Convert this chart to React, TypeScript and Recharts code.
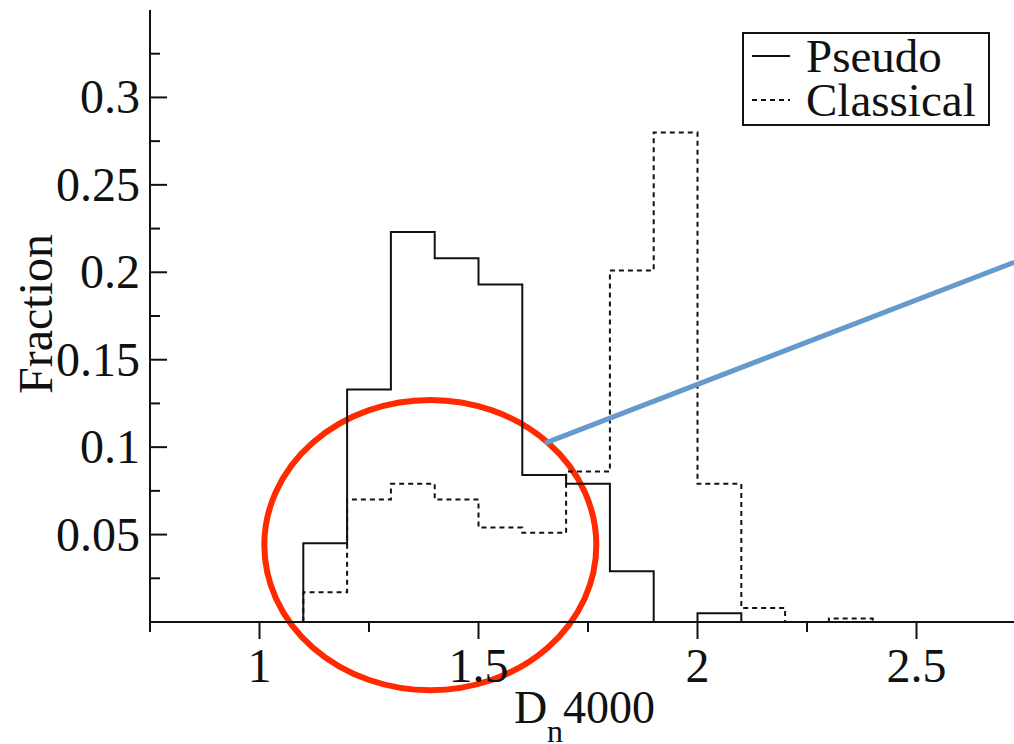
// Dn4000 distribution of pseudo vs classical bulges — step histogram with annotation overlay

import React from 'react';
import {
  ComposedChart,
  Line,
  XAxis,
  YAxis,
  Label,
  Legend,
  ReferenceArea,
  ReferenceLine,
} from 'recharts';

// left edges of the 0.1-wide bins, plus the closing edge
const binStarts = [1.1, 1.2, 1.3, 1.4, 1.5, 1.6, 1.7, 1.8, 1.9, 2.0, 2.1, 2.2, 2.3];
const binEnd = 2.4;

const pseudoFrac = [0.045, 0.133, 0.223, 0.208, 0.193, 0.084, 0.079, 0.029, 0, 0.005, 0, 0, 0];
const classicalFrac = [0.017, 0.07, 0.079, 0.07, 0.054, 0.051, 0.086, 0.201, 0.28, 0.079, 0.008, 0, 0.002];

const xTicks = [0.75, 1, 1.25, 1.5, 1.75, 2, 2.25, 2.5];
const xLabelled = [1, 1.5, 2, 2.5];
const yTicks = [0.025, 0.05, 0.075, 0.1, 0.125, 0.15, 0.175, 0.2, 0.225, 0.25, 0.275, 0.3, 0.325];
const yLabelled = [0.05, 0.1, 0.15, 0.2, 0.25, 0.3];

const xDomain: [number, number] = [0.75, 2.734];
const yDomain: [number, number] = [0, 0.35];

// hand-drawn annotations, in data coordinates
const circled = { x1: 1.011, x2: 1.769, y1: -0.039, y2: 0.127 };
const pointer = [
  { x: 1.652, y: 0.1023 },
  { x: 2.723, y: 0.2057 },
];

const INK = '#111';
const FONT = 'Liberation Serif, Times New Roman, serif';
const DOTTED = '5 4';

function toSteps(values: number[]) {
  const pts = [{ x: binStarts[0], y: 0 }];
  binStarts.forEach((x, i) => pts.push({ x, y: values[i] }));
  pts.push({ x: binEnd, y: 0 });
  return pts;
}

const pseudoSteps = toSteps(pseudoFrac);
const classicalSteps = toSteps(classicalFrac);

function LeftTick(props: any) {
  const { x, y, payload } = props;
  const major = yLabelled.includes(payload.value);
  return (
    <g>
      <line x1={x} x2={x + (major ? 17 : 10)} y1={y} y2={y} stroke={INK} strokeWidth={2} />
      {major && (
        <text x={x - 10} y={y} dy={16} textAnchor="end" style={{ fontFamily: FONT, fontSize: 48 }} fill={INK}>
          {String(payload.value)}
        </text>
      )}
    </g>
  );
}

function RightTick(props: any) {
  const { x, y, payload } = props;
  const major = yLabelled.includes(payload.value);
  return <line x1={x - (major ? 17 : 10)} x2={x} y1={y} y2={y} stroke={INK} strokeWidth={2} />;
}

function BottomTick(props: any) {
  const { x, y, payload } = props;
  const major = xLabelled.includes(payload.value);
  return (
    <g>
      <line x1={x} x2={x} y1={y} y2={y + (major ? 17 : 10)} stroke={INK} strokeWidth={2} />
      {major && (
        <text x={x} y={y + 60} textAnchor="middle" style={{ fontFamily: FONT, fontSize: 48 }} fill={INK}>
          {String(payload.value)}
        </text>
      )}
    </g>
  );
}

function LegendBox() {
  const rows = [
    { name: 'Pseudo', dash: undefined },
    { name: 'Classical', dash: DOTTED },
  ];
  return (
    <div
      style={{
        border: `2px solid ${INK}`,
        boxSizing: 'border-box',
        width: 248,
        height: 94,
        background: '#fff',
        paddingLeft: 8,
        fontFamily: FONT,
        fontSize: 47,
        color: INK,
      }}
    >
      {rows.map((r) => (
        <div key={r.name} style={{ display: 'flex', alignItems: 'center', height: 44, lineHeight: '44px' }}>
          <svg width={38} height={4} style={{ marginRight: 16, flex: 'none' }}>
            <line x1={0} x2={38} y1={2} y2={2} stroke={INK} strokeWidth={2} strokeDasharray={r.dash} />
          </svg>
          <span>{r.name}</span>
        </div>
      ))}
    </div>
  );
}

export default function App() {
  return (
    <div
      style={{
        position: 'absolute',
        left: 0,
        top: 0,
        width: 1014,
        height: 744,
        overflow: 'hidden',
        background: '#fff',
        fontFamily: FONT,
      }}
    >
      <ComposedChart width={1040} height={744} margin={{ top: 10, right: 21, bottom: 0, left: 0 }}>
        <XAxis
          dataKey="x"
          type="number"
          domain={xDomain}
          ticks={xTicks}
          interval={0}
          height={122}
          tickSize={0}
          tickMargin={0}
          tick={BottomTick}
          axisLine={{ stroke: INK, strokeWidth: 2 }}
          allowDataOverflow
        >
          <Label
            content={(p: any) => {
              const vb = p.viewBox;
              return (
                <text
                  x={vb.x + vb.width / 2}
                  y={vb.y + 101}
                  textAnchor="middle"
                  style={{ fontFamily: FONT, fontSize: 46 }}
                  fill={INK}
                >
                  <tspan>D</tspan>
                  <tspan style={{ fontSize: 32 }} dy={19}>n</tspan>
                  <tspan dy={-19}>4000</tspan>
                </text>
              );
            }}
          />
        </XAxis>
        <XAxis
          xAxisId="top"
          orientation="top"
          type="number"
          domain={xDomain}
          height={0}
          tick={false}
          tickLine={false}
          axisLine={{ stroke: INK, strokeWidth: 2 }}
          allowDataOverflow
        />
        <YAxis
          type="number"
          domain={yDomain}
          ticks={yTicks}
          interval={0}
          width={150}
          tickSize={0}
          tickMargin={0}
          tick={LeftTick}
          axisLine={{ stroke: INK, strokeWidth: 2 }}
          allowDataOverflow
        >
          <Label
            content={(p: any) => {
              const vb = p.viewBox;
              const cx = vb.x + 35;
              const cy = vb.y + vb.height / 2 - 2;
              return (
                <text
                  x={cx}
                  y={cy}
                  transform={`rotate(-90, ${cx}, ${cy})`}
                  textAnchor="middle"
                  dominantBaseline="central"
                  style={{ fontFamily: FONT, fontSize: 48 }}
                  fill={INK}
                >
                  Fraction
                </text>
              );
            }}
          />
        </YAxis>
        <YAxis
          yAxisId="right"
          orientation="right"
          type="number"
          domain={yDomain}
          ticks={yTicks}
          interval={0}
          width={0}
          tickSize={0}
          tickMargin={0}
          tick={RightTick}
          axisLine={{ stroke: INK, strokeWidth: 2 }}
          allowDataOverflow
        />
        <Legend
          layout="horizontal"
          verticalAlign="middle"
          align="center"
          wrapperStyle={{ top: 32, left: 742, width: 248 }}
          content={() => <LegendBox />}
        />
        <Line
          name="Pseudo"
          data={pseudoSteps}
          dataKey="y"
          type="stepAfter"
          stroke={INK}
          strokeWidth={2}
          dot={false}
          activeDot={false}
          isAnimationActive={false}
        />
        <Line
          name="Classical"
          data={classicalSteps}
          dataKey="y"
          type="stepAfter"
          stroke={INK}
          strokeWidth={2}
          strokeDasharray={DOTTED}
          dot={false}
          activeDot={false}
          isAnimationActive={false}
        />
        <ReferenceArea
          x1={circled.x1}
          x2={circled.x2}
          y1={circled.y1}
          y2={circled.y2}
          ifOverflow="visible"
          shape={(p: any) => (
            <ellipse
              cx={p.x + p.width / 2}
              cy={p.y + p.height / 2}
              rx={p.width / 2}
              ry={p.height / 2}
              fill="none"
              stroke="#ff2a00"
              strokeWidth={6}
            />
          )}
        />
        <ReferenceLine
          segment={pointer}
          ifOverflow="visible"
          stroke="#6699cc"
          strokeWidth={5}
        />
      </ComposedChart>
    </div>
  );
}
